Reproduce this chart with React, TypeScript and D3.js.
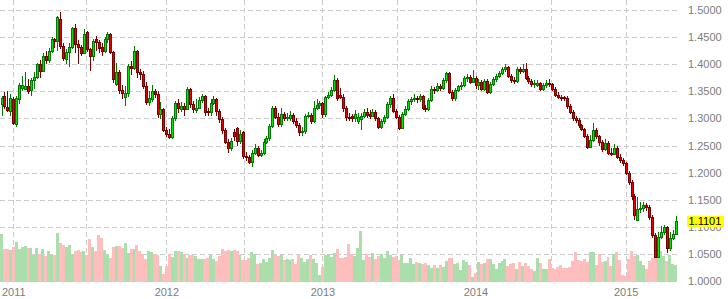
import React from 'react';
import * as d3 from 'd3';

// Weekly EUR/USD-style candles (Dec 2010 – May 2015)
const OPEN = [
  1.326, 1.342, 1.321, 1.314, 1.336, 1.289, 1.336, 1.356, 1.355, 1.359,
  1.352, 1.370, 1.376, 1.400, 1.388, 1.416, 1.408, 1.425, 1.446, 1.443,
  1.483, 1.434, 1.409, 1.423, 1.432, 1.466, 1.437, 1.432, 1.420, 1.460,
  1.428, 1.416, 1.446, 1.441, 1.432, 1.425, 1.446, 1.456, 1.423, 1.363,
  1.386, 1.352, 1.340, 1.347, 1.397, 1.393, 1.424, 1.386, 1.382, 1.360,
  1.331, 1.336, 1.350, 1.345, 1.309, 1.317, 1.279, 1.271, 1.266, 1.300,
  1.328, 1.318, 1.322, 1.318, 1.354, 1.326, 1.315, 1.320, 1.334, 1.341,
  1.314, 1.312, 1.329, 1.336, 1.314, 1.298, 1.279, 1.257, 1.246, 1.274,
  1.282, 1.258, 1.274, 1.231, 1.228, 1.220, 1.237, 1.245, 1.232, 1.236,
  1.257, 1.263, 1.286, 1.319, 1.303, 1.289, 1.309, 1.300, 1.300, 1.307,
  1.295, 1.287, 1.274, 1.277, 1.304, 1.306, 1.296, 1.320, 1.324, 1.328,
  1.308, 1.339, 1.344, 1.352, 1.371, 1.343, 1.340, 1.320, 1.303, 1.304,
  1.300, 1.296, 1.299, 1.305, 1.312, 1.308, 1.305, 1.312, 1.300, 1.285,
  1.295, 1.302, 1.326, 1.338, 1.314, 1.303, 1.283, 1.309, 1.318, 1.332,
  1.335, 1.338, 1.336, 1.341, 1.320, 1.318, 1.334, 1.355, 1.353, 1.360,
  1.357, 1.371, 1.383, 1.349, 1.337, 1.352, 1.360, 1.362, 1.374, 1.376,
  1.368, 1.375, 1.362, 1.367, 1.354, 1.369, 1.349, 1.364, 1.373, 1.378,
  1.384, 1.391, 1.394, 1.379, 1.371, 1.369, 1.391, 1.387, 1.392, 1.375,
  1.369, 1.363, 1.362, 1.365, 1.354, 1.361, 1.365, 1.363, 1.355, 1.344,
  1.340, 1.339, 1.338, 1.323, 1.312, 1.300, 1.297, 1.287, 1.280, 1.268,
  1.247, 1.261, 1.278, 1.267, 1.257, 1.243, 1.255, 1.237, 1.235, 1.246,
  1.229, 1.223, 1.217, 1.200, 1.183, 1.157, 1.113, 1.133, 1.134, 1.140,
  1.136, 1.118, 1.085, 1.045, 1.082, 1.090, 1.099, 1.060, 1.079, 1.087,
];

const CLOSE = [
  1.338, 1.322, 1.316, 1.337, 1.292, 1.338, 1.362, 1.361, 1.359, 1.350,
  1.371, 1.376, 1.400, 1.388, 1.416, 1.408, 1.425, 1.446, 1.443, 1.487,
  1.434, 1.411, 1.423, 1.432, 1.466, 1.437, 1.432, 1.420, 1.455, 1.428,
  1.416, 1.443, 1.441, 1.430, 1.425, 1.446, 1.456, 1.423, 1.372, 1.386,
  1.352, 1.347, 1.347, 1.397, 1.393, 1.424, 1.386, 1.382, 1.360, 1.331,
  1.338, 1.350, 1.345, 1.309, 1.317, 1.279, 1.271, 1.266, 1.300, 1.328,
  1.320, 1.322, 1.318, 1.354, 1.326, 1.317, 1.320, 1.334, 1.341, 1.312,
  1.312, 1.329, 1.336, 1.314, 1.298, 1.279, 1.257, 1.246, 1.258, 1.268,
  1.258, 1.272, 1.231, 1.228, 1.220, 1.237, 1.245, 1.232, 1.236, 1.257,
  1.263, 1.286, 1.319, 1.303, 1.289, 1.309, 1.300, 1.303, 1.307, 1.295,
  1.287, 1.274, 1.277, 1.304, 1.306, 1.296, 1.320, 1.324, 1.328, 1.308,
  1.339, 1.344, 1.352, 1.371, 1.338, 1.340, 1.320, 1.303, 1.301, 1.300,
  1.309, 1.303, 1.305, 1.312, 1.306, 1.305, 1.312, 1.300, 1.285, 1.295,
  1.302, 1.326, 1.338, 1.314, 1.303, 1.283, 1.309, 1.318, 1.332, 1.335,
  1.338, 1.336, 1.341, 1.320, 1.318, 1.334, 1.355, 1.353, 1.360, 1.357,
  1.371, 1.383, 1.349, 1.337, 1.352, 1.360, 1.362, 1.374, 1.376, 1.368,
  1.375, 1.362, 1.367, 1.354, 1.369, 1.349, 1.364, 1.373, 1.378, 1.384,
  1.391, 1.394, 1.379, 1.371, 1.369, 1.391, 1.387, 1.392, 1.375, 1.369,
  1.363, 1.366, 1.365, 1.354, 1.361, 1.365, 1.363, 1.355, 1.344, 1.340,
  1.339, 1.338, 1.323, 1.312, 1.300, 1.297, 1.287, 1.280, 1.268, 1.247,
  1.261, 1.278, 1.267, 1.257, 1.243, 1.255, 1.237, 1.235, 1.246, 1.229,
  1.223, 1.217, 1.200, 1.183, 1.157, 1.122, 1.133, 1.134, 1.140, 1.136,
  1.118, 1.085, 1.045, 1.082, 1.090, 1.099, 1.060, 1.079, 1.087, 1.1101,
];

const HIGH = [
  1.342, 1.348, 1.350, 1.345, 1.340, 1.342, 1.365, 1.378, 1.385, 1.372,
  1.375, 1.385, 1.402, 1.408, 1.420, 1.425, 1.430, 1.450, 1.449, 1.489,
  1.497, 1.440, 1.428, 1.440, 1.468, 1.474, 1.445, 1.435, 1.465, 1.462,
  1.430, 1.447, 1.452, 1.445, 1.440, 1.450, 1.460, 1.458, 1.425, 1.402,
  1.390, 1.362, 1.360, 1.400, 1.405, 1.433, 1.426, 1.392, 1.388, 1.368,
  1.350, 1.362, 1.355, 1.350, 1.330, 1.320, 1.285, 1.280, 1.305, 1.332,
  1.335, 1.330, 1.328, 1.358, 1.356, 1.332, 1.335, 1.340, 1.345, 1.343,
  1.320, 1.335, 1.342, 1.338, 1.318, 1.302, 1.283, 1.262, 1.264, 1.280,
  1.285, 1.278, 1.276, 1.238, 1.232, 1.242, 1.252, 1.250, 1.242, 1.262,
  1.268, 1.290, 1.322, 1.322, 1.310, 1.320, 1.312, 1.310, 1.313, 1.310,
  1.300, 1.292, 1.285, 1.308, 1.312, 1.310, 1.332, 1.335, 1.332, 1.330,
  1.342, 1.348, 1.358, 1.380, 1.374, 1.356, 1.345, 1.323, 1.310, 1.308,
  1.315, 1.310, 1.310, 1.318, 1.320, 1.315, 1.318, 1.316, 1.303, 1.298,
  1.306, 1.330, 1.342, 1.345, 1.318, 1.306, 1.312, 1.322, 1.336, 1.340,
  1.345, 1.342, 1.345, 1.344, 1.325, 1.338, 1.360, 1.358, 1.365, 1.364,
  1.375, 1.386, 1.385, 1.352, 1.356, 1.362, 1.368, 1.378, 1.382, 1.380,
  1.389, 1.378, 1.372, 1.370, 1.373, 1.372, 1.367, 1.376, 1.382, 1.388,
  1.395, 1.400, 1.396, 1.382, 1.376, 1.394, 1.395, 1.400, 1.402, 1.378,
  1.372, 1.371, 1.370, 1.368, 1.366, 1.370, 1.372, 1.366, 1.358, 1.348,
  1.344, 1.342, 1.341, 1.326, 1.315, 1.305, 1.300, 1.290, 1.283, 1.272,
  1.270, 1.291, 1.282, 1.270, 1.260, 1.262, 1.258, 1.245, 1.252, 1.250,
  1.234, 1.227, 1.220, 1.203, 1.186, 1.160, 1.155, 1.145, 1.145, 1.143,
  1.140, 1.121, 1.088, 1.090, 1.102, 1.104, 1.102, 1.090, 1.094, 1.120,
];

const LOW = [
  1.305, 1.318, 1.312, 1.305, 1.288, 1.285, 1.326, 1.350, 1.352, 1.345,
  1.342, 1.355, 1.372, 1.375, 1.385, 1.400, 1.402, 1.420, 1.430, 1.425,
  1.428, 1.405, 1.400, 1.395, 1.428, 1.420, 1.400, 1.415, 1.418, 1.422,
  1.388, 1.405, 1.425, 1.420, 1.415, 1.420, 1.440, 1.418, 1.365, 1.360,
  1.345, 1.335, 1.322, 1.340, 1.380, 1.390, 1.375, 1.370, 1.355, 1.325,
  1.322, 1.330, 1.338, 1.300, 1.298, 1.275, 1.265, 1.262, 1.262, 1.295,
  1.310, 1.312, 1.305, 1.315, 1.320, 1.310, 1.310, 1.318, 1.328, 1.305,
  1.305, 1.305, 1.325, 1.305, 1.292, 1.272, 1.252, 1.236, 1.240, 1.258,
  1.250, 1.252, 1.225, 1.222, 1.215, 1.211, 1.232, 1.228, 1.228, 1.232,
  1.252, 1.258, 1.282, 1.298, 1.285, 1.285, 1.295, 1.295, 1.296, 1.290,
  1.282, 1.268, 1.268, 1.272, 1.300, 1.290, 1.292, 1.316, 1.318, 1.300,
  1.303, 1.335, 1.340, 1.348, 1.333, 1.335, 1.312, 1.295, 1.295, 1.294,
  1.294, 1.290, 1.278, 1.300, 1.300, 1.298, 1.302, 1.296, 1.280, 1.280,
  1.290, 1.298, 1.320, 1.310, 1.298, 1.279, 1.280, 1.305, 1.314, 1.325,
  1.330, 1.328, 1.330, 1.316, 1.312, 1.314, 1.330, 1.345, 1.348, 1.350,
  1.352, 1.365, 1.345, 1.332, 1.333, 1.348, 1.352, 1.358, 1.367, 1.364,
  1.366, 1.355, 1.352, 1.350, 1.350, 1.345, 1.345, 1.360, 1.368, 1.374,
  1.380, 1.386, 1.375, 1.366, 1.364, 1.366, 1.382, 1.384, 1.370, 1.364,
  1.358, 1.356, 1.358, 1.350, 1.350, 1.356, 1.358, 1.350, 1.340, 1.336,
  1.333, 1.332, 1.318, 1.308, 1.295, 1.291, 1.282, 1.276, 1.263, 1.243,
  1.245, 1.256, 1.262, 1.250, 1.238, 1.240, 1.232, 1.230, 1.232, 1.225,
  1.218, 1.212, 1.196, 1.178, 1.150, 1.113, 1.110, 1.125, 1.128, 1.130,
  1.112, 1.080, 1.045, 1.045, 1.078, 1.085, 1.052, 1.055, 1.075, 1.085,
];

const VOLUME = [
  48, 33, 33, 32, 35, 40, 33, 35, 36, 34,
  34, 27, 34, 28, 33, 26, 31, 27, 27, 49,
  39, 37, 35, 37, 28, 31, 32, 30, 31, 27,
  43, 35, 31, 47, 44, 32, 28, 24, 35, 36,
  36, 34, 39, 29, 33, 33, 37, 31, 28, 23,
  31, 30, 28, 27, 16, 8, 16, 28, 25, 31,
  31, 30, 28, 24, 27, 27, 26, 23, 23, 23,
  24, 27, 23, 21, 26, 33, 31, 32, 31, 32,
  31, 27, 22, 22, 24, 30, 28, 18, 19, 23,
  20, 24, 32, 27, 26, 27, 22, 23, 22, 23,
  18, 28, 24, 20, 23, 27, 23, 19, 7, 15,
  27, 28, 25, 29, 33, 24, 24, 25, 38, 28,
  26, 34, 51, 22, 28, 25, 29, 23, 26, 28,
  24, 31, 27, 25, 26, 22, 27, 19, 19, 24,
  18, 20, 19, 18, 19, 17, 14, 17, 14, 17,
  15, 21, 24, 24, 18, 19, 12, 22, 20, 17,
  5, 9, 20, 18, 19, 23, 23, 18, 13, 19,
  21, 23, 16, 18, 19, 13, 20, 16, 19, 16,
  13, 11, 24, 19, 13, 13, 23, 14, 13, 15,
  17, 14, 14, 15, 21, 30, 22, 21, 23, 20,
  30, 30, 17, 28, 20, 21, 25, 16, 28, 30,
  22, 7, 6, 23, 31, 26, 27, 21, 17, 13,
  21, 24, 24, 31, 31, 26, 21, 27, 18, 17,
];

const PRICE_TICKS = [1.0, 1.05, 1.1, 1.15, 1.2, 1.25, 1.3, 1.35, 1.4, 1.45, 1.5];
const GRID_WEEKS = [4, 28.6, 56, 82.5, 109, 134.4, 161, 186.5, 212];
const YEAR_LABELS = ['2011', '2012', '2013', '2014', '2015'];
const YEAR_WEEKS = [4, 56, 109, 161, 212];
const LAST_PRICE = 1.1101;

const FONT = '"Liberation Sans", Arial, Helvetica, sans-serif';

export default function App() {
  const W = 728;
  const H = 299;
  const n = CLOSE.length;
  const x = d3.scaleLinear().domain([0, n - 1]).range([1.5, 675.7]);
  const y = d3.scaleLinear().domain([1.0, 1.5]).range([281, 10]);
  const v = d3.scaleLinear().domain([0, 60]).range([282, 222]);
  const step = x(1) - x(0);
  const snap = (p: number) => Math.round(p) + 0.5;
  const plotRight = 680;

  const candles = d3.range(n).map((i) => {
    const o = OPEN[i];
    const c = CLOSE[i];
    const up = c >= o;
    const cx = Math.round(x(i));
    const top = snap(y(Math.max(o, c)));
    const bot = snap(y(Math.min(o, c)));
    return { i, up, cx, top, bot, hi: y(HIGH[i]), lo: y(LOW[i]) };
  });

  return (
    <div style={{ position: 'absolute', left: 0, top: 0, width: W, height: H, background: '#fff' }}>
      <svg width={W} height={H} style={{ display: 'block' }}>
        <rect x={0} y={0} width={W} height={H} fill="#ffffff" />
        {/* horizontal grid */}
        {PRICE_TICKS.map((p) => (
          <line
            key={'h' + p}
            x1={0}
            x2={plotRight}
            y1={snap(y(p))}
            y2={snap(y(p))}
            stroke="#cccccc"
            strokeWidth={1}
            strokeDasharray="5,3"
          />
        ))}
        {/* vertical grid */}
        {GRID_WEEKS.map((w) => (
          <line
            key={'v' + w}
            x1={snap(x(w))}
            x2={snap(x(w))}
            y1={0}
            y2={282}
            stroke="#cccccc"
            strokeWidth={1}
            strokeDasharray="5,3"
          />
        ))}
        {/* volume */}
        {VOLUME.map((vol, i) => {
          const left = Math.round(x(i) - step / 2);
          const right = Math.round(x(i) + step / 2);
          const up = CLOSE[i] >= OPEN[i];
          return (
            <rect
              key={'vol' + i}
              x={left}
              y={Math.round(v(vol))}
              width={right - left}
              height={Math.round(v(0)) - Math.round(v(vol))}
              fill={up ? '#aadeaa' : '#ffbebe'}
              shapeRendering="crispEdges"
            />
          );
        })}
        {/* candles */}
        {candles.map((d) => (
          <g key={'c' + d.i}>
            <line
              x1={d.cx + 0.5}
              x2={d.cx + 0.5}
              y1={Math.round(d.hi)}
              y2={Math.round(d.lo)}
              stroke={d.up ? '#007a00' : '#7a0000'}
              strokeWidth={1}
              shapeRendering="crispEdges"
            />
            <rect
              x={d.cx - 0.5}
              y={d.top}
              width={2}
              height={Math.max(d.bot - d.top, 1)}
              fill={d.up ? '#00e600' : '#e80000'}
              stroke={d.up ? '#007a00' : '#7a0000'}
              strokeWidth={1}
            />
          </g>
        ))}
        {/* right axis labels */}
        {PRICE_TICKS.map((p) => (
          <text
            key={'t' + p}
            x={688}
            y={y(p) + 4}
            fontFamily={FONT}
            fontSize={11}
            fill="#7d7d7d"
          >
            {p.toFixed(4)}
          </text>
        ))}
        {/* year labels */}
        {YEAR_WEEKS.map((w, k) => (
          <text
            key={'y' + k}
            x={x(w) + 0.5}
            y={296}
            textAnchor="middle"
            fontFamily={FONT}
            fontSize={11}
            fill="#7d7d7d"
          >
            {YEAR_LABELS[k]}
          </text>
        ))}
        {/* last price */}
        <rect x={687} y={y(LAST_PRICE) - 5.5} width={37} height={11.5} fill="#ffff00" />
        <text
          x={688.5}
          y={y(LAST_PRICE) + 4}
          fontFamily={FONT}
          fontSize={11}
          fill="#000000"
        >
          {LAST_PRICE.toFixed(4)}
        </text>
      </svg>
    </div>
  );
}
